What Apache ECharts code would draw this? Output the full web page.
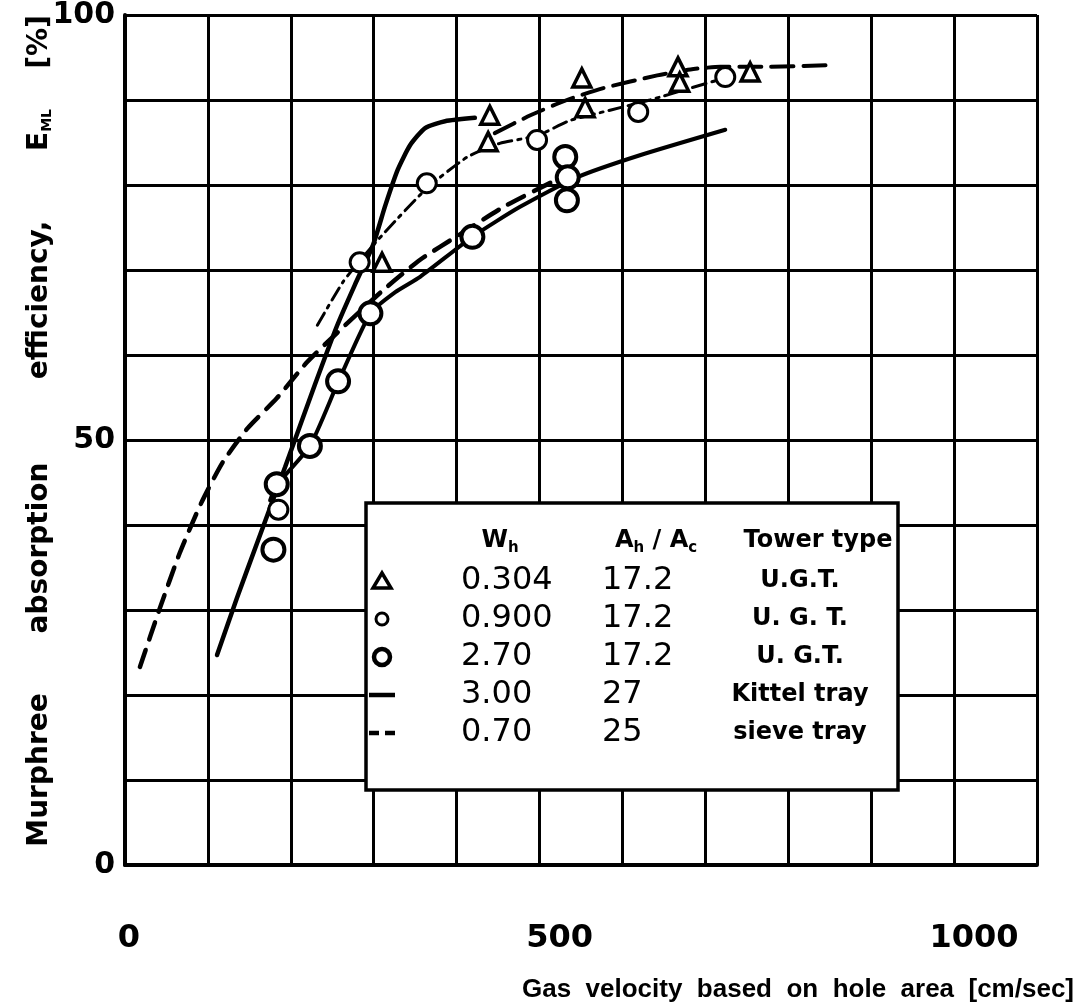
<!DOCTYPE html>
<html>
<head>
<meta charset="utf-8">
<script src="https://cdn.jsdelivr.net/npm/echarts@6/dist/echarts.min.js"></script>
<style>
  html, body { margin: 0; padding: 0; background: #fff; }
  #chart { width: 1082px; height: 1006px; }
</style>
</head>
<body>
<div id="chart"></div>
<script>
// axis ticks
const xTicks = [0, 500, 1000];
const yTicks = [0, 50, 100];

// measured points  [gas velocity, efficiency]
const triPoints = [[310, 70.9], [438, 85.1], [440, 88.2], [551, 92.6], [555, 89.1], [667, 93.9], [669, 92.1], [754, 93.3]];
const smallCirclePoints = [[185, 41.8], [283, 70.9], [364, 80.2], [497, 85.3], [619, 88.6], [724, 92.7]];
const bigCirclePoints = [[179, 37.1], [183, 44.8], [223, 49.3], [257, 56.9], [296, 64.9], [419, 73.9], [531, 83.3], [534, 80.9], [533, 78.2]];

// curves
const kittelCurve = [[111, 24.7], [135, 31.4], [159, 37.8], [193, 46.8], [229, 56.5], [256, 63.5], [277, 68.2], [299, 72.9], [314, 77.6], [329, 81.8], [344, 84.7], [362, 86.7], [386, 87.5], [422, 87.9]];
const sieveCurve = [[18, 23.3], [42, 30.2], [66, 36.7], [92, 42.6], [118, 47.4], [148, 51.4], [183, 54.9], [220, 59.2], [259, 62.9], [311, 67.6], [356, 71.2], [404, 74.2], [458, 77.5], [516, 80.4]];
const curve270 = [[175, 42.9], [183, 44.7], [223, 49.3], [257, 56.8], [296, 64.9], [326, 67.4], [356, 69.2], [419, 73.9], [476, 77.4], [545, 80.9], [621, 83.5], [724, 86.5]];
const curve0304 = [[446, 86.1], [489, 88.2], [533, 90.0], [577, 91.4], [642, 92.9], [682, 93.6], [718, 93.9], [766, 93.9], [850, 94.1]];
const curve0900 = [[232, 63.5], [263, 68.6], [286, 71.4], [314, 74.5], [364, 79.6], [413, 83.3], [452, 84.9], [497, 85.8], [537, 87.6], [585, 88.8], [633, 90.0], [682, 91.4], [724, 92.6]];

// legend table
const legendWh = ['0.304', '0.900', '2.70', '3.00', '0.70'];
const legendArea = ['17.2', '17.2', '17.2', '27', '25'];
const legendType = ['U.G.T.', 'U. G. T.', 'U. G.T.', 'Kittel tray', 'sieve tray'];

const chart = echarts.init(document.getElementById('chart'));
const FONT = 'DejaVu Sans';

function lineSeries(data, width, type) {
  return {
    type: 'line',
    data: data,
    showSymbol: false,
    smooth: 0.2,
    silent: true,
    z: 3,
    lineStyle: { color: '#000', width: width, type: type, cap: 'round' }
  };
}

function markSeries(data, symbol, size, border) {
  return {
    type: 'scatter',
    data: data,
    symbol: symbol,
    symbolSize: size,
    z: 5,
    itemStyle: { color: '#fff', borderColor: '#000', borderWidth: border, opacity: 1 }
  };
}

// legend graphics
const rowY = [581, 619, 657, 695, 733];
const legendGraphics = [
  { type: 'rect', z: 20, shape: { x: 366, y: 503, width: 532, height: 287 },
    style: { fill: '#fff', stroke: '#000', lineWidth: 3.5 } },
  { type: 'text', z: 21, x: 500, y: 541, style: { text: 'W{s|h}', font: '600 24px ' + FONT, textAlign: 'center', textVerticalAlign: 'middle', fill: '#000',
    rich: { s: { font: '600 15px ' + FONT, padding: [14, 0, 0, 0] } } } },
  { type: 'text', z: 21, x: 656, y: 541, style: { text: 'A{s|h} / A{s|c}', font: '600 24px ' + FONT, textAlign: 'center', textVerticalAlign: 'middle', fill: '#000',
    rich: { s: { font: '600 15px ' + FONT, padding: [14, 0, 0, 0] } } } },
  { type: 'text', z: 21, x: 818, y: 541, style: { text: 'Tower type', font: '600 24px ' + FONT, textAlign: 'center', textVerticalAlign: 'middle', fill: '#000' } },
  // keys
  { type: 'polygon', z: 21, shape: { points: [[382, 573], [373, 588], [391, 588]] }, style: { fill: '#fff', stroke: '#000', lineWidth: 3.5 } },
  { type: 'circle', z: 21, shape: { cx: 382, cy: 619, r: 6 }, style: { fill: '#fff', stroke: '#000', lineWidth: 3 } },
  { type: 'circle', z: 21, shape: { cx: 382, cy: 657, r: 8 }, style: { fill: '#fff', stroke: '#000', lineWidth: 4.5 } },
  { type: 'line', z: 21, shape: { x1: 369, y1: 695, x2: 395, y2: 695 }, style: { stroke: '#000', lineWidth: 4.5 } },
  { type: 'line', z: 21, shape: { x1: 369, y1: 733, x2: 379, y2: 733 }, style: { stroke: '#000', lineWidth: 4.5 } },
  { type: 'line', z: 21, shape: { x1: 385, y1: 733, x2: 395, y2: 733 }, style: { stroke: '#000', lineWidth: 4.5 } }
];
rowY.forEach((y, i) => {
  legendGraphics.push({ type: 'text', z: 21, x: 461, y: y, style: { text: legendWh[i], font: '500 32px ' + FONT, textAlign: 'left', textVerticalAlign: 'middle', fill: '#000' } });
  legendGraphics.push({ type: 'text', z: 21, x: 602, y: y, style: { text: legendArea[i], font: '500 32px ' + FONT, textAlign: 'left', textVerticalAlign: 'middle', fill: '#000' } });
  legendGraphics.push({ type: 'text', z: 21, x: 800, y: y, style: { text: legendType[i], font: 'bold 24px ' + FONT, textAlign: 'center', textVerticalAlign: 'middle', fill: '#000' } });
});

// axis titles as placed text
const yTitleWords = [['Murphree', 770], ['absorption', 548], ['efficiency,', 300], ['E{s|ML}', 130], ['[%]', 42]];
const titleGraphics = yTitleWords.map(w => ({
  type: 'text', x: 40, y: w[1], rotation: Math.PI / 2,
  style: { text: w[0], font: 'bold 28px ' + FONT, textAlign: 'center', textVerticalAlign: 'middle', fill: '#000',
    rich: { s: { font: 'bold 14px ' + FONT, padding: [14, 0, 0, 0] } } }
}));
titleGraphics.push({
  type: 'text', x: 1074, y: 990,
  style: { text: 'Gas  velocity  based  on  hole  area  [cm/sec]', font: 'bold 26px "Liberation Sans"', textAlign: 'right', textVerticalAlign: 'middle', fill: '#000' }
});

const option = {
  backgroundColor: '#fff',
  animation: false,
  grid: { left: 125, right: 45, top: 15, bottom: 141 },
  xAxis: {
    type: 'value', min: 0, max: 1100, interval: 100,
    axisLine: { show: true, lineStyle: { color: '#000', width: 4 } },
    axisTick: { show: false },
    splitLine: { show: true, lineStyle: { color: '#000', width: 3 } },
    axisLabel: {
      margin: 58,
      color: '#000',
      fontFamily: FONT, fontWeight: 'bold', fontSize: 32,
      formatter: v => xTicks.indexOf(v) < 0 ? '' : (v === 0 ? '{a|0}' : '{b|' + v + '}'),
      rich: {
        a: { fontFamily: FONT, fontWeight: 'bold', fontSize: 32, padding: [0, 0, 0, 8] },
        b: { fontFamily: FONT, fontWeight: 'bold', fontSize: 32, padding: [0, 0, 0, 40] }
      }
    }
  },
  yAxis: {
    type: 'value', min: 0, max: 100, interval: 10,
    axisLine: { show: true, lineStyle: { color: '#000', width: 4 } },
    axisTick: { show: false },
    splitLine: { show: true, lineStyle: { color: '#000', width: 3 } },
    axisLabel: {
      margin: 10, color: '#000',
      fontFamily: FONT, fontWeight: 'bold', fontSize: 30,
      formatter: v => yTicks.indexOf(v) < 0 ? '' : String(v)
    }
  },
  graphic: legendGraphics.concat(titleGraphics),
  series: [
    lineSeries(kittelCurve, 4.5, 'solid'),
    lineSeries(sieveCurve, 4.5, [18, 11]),
    lineSeries(curve270, 4, 'solid'),
    lineSeries(curve0304, 4, [22, 10]),
    lineSeries(curve0900, 3, [14, 6, 3, 6]),
    markSeries(triPoints, 'triangle', 18, 3.5),
    markSeries(smallCirclePoints, 'circle', 19, 3),
    markSeries(bigCirclePoints, 'circle', 22, 4)
  ]
};
chart.setOption(option);
</script>
</body>
</html>
